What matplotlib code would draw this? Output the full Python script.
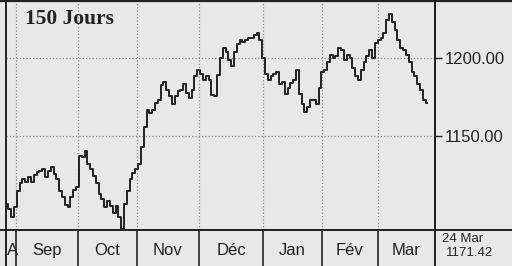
import matplotlib
matplotlib.use("Agg")
import matplotlib.pyplot as plt
from matplotlib.lines import Line2D

# daily closes, 150 sessions, late Aug -> 24 Mar
closes = [
    1107.0, 1103.8, 1098.7, 1105.1, 1115.2, 1120.3, 1122.8, 1120.9, 1124.1, 1120.9,
    1125.3, 1127.2, 1127.8, 1129.1, 1124.1, 1127.8, 1130.4, 1126.0, 1122.8, 1115.2,
    1111.4, 1106.3, 1105.1, 1111.4, 1115.8, 1117.7, 1137.3, 1136.7, 1140.5, 1132.3,
    1129.1, 1124.7, 1120.3, 1113.3, 1110.1, 1105.1, 1108.9, 1105.7, 1101.3, 1105.7,
    1098.7, 1091.1, 1107.0, 1115.2, 1122.8, 1126.6, 1129.1, 1132.3, 1143.0, 1155.7,
    1167.1, 1165.2, 1167.1, 1171.5, 1173.4, 1182.9, 1184.8, 1179.7, 1176.0, 1170.9,
    1176.0, 1179.1, 1179.7, 1183.5, 1177.8, 1174.7, 1179.7, 1188.6, 1192.4, 1189.9,
    1186.1, 1188.6, 1186.1, 1176.6, 1176.0, 1189.2, 1200.0, 1206.3, 1203.8, 1198.7,
    1194.9, 1203.8, 1208.9, 1211.4, 1210.1, 1211.4, 1212.7, 1212.7, 1214.6, 1215.8,
    1211.4, 1200.0, 1189.9, 1186.1, 1188.6, 1189.9, 1191.1, 1183.5, 1184.8, 1177.2,
    1181.0, 1184.2, 1186.1, 1192.4, 1177.2, 1170.3, 1165.8, 1168.4, 1173.4, 1173.4,
    1170.9, 1181.0, 1191.1, 1192.4, 1197.5, 1201.9, 1200.0, 1201.3, 1206.3, 1205.1,
    1198.7, 1201.9, 1200.0, 1193.7, 1188.6, 1186.1, 1192.4, 1197.5, 1201.3, 1205.1,
    1200.0, 1209.5, 1211.4, 1212.7, 1215.8, 1224.1, 1227.8, 1222.8, 1217.7, 1211.4,
    1206.3, 1205.1, 1201.9, 1197.5, 1191.1, 1188.6, 1183.5, 1179.7, 1173.4, 1171.42,
]
# session index where each month boundary falls
month_bounds = [3.2, 25.2, 46.1, 68.1, 90.8, 111.7, 131.6]
month_labels = ["A", "Sep", "Oct", "Nov", "Déc", "Jan", "Fév", "Mar"]
yticks = [1150, 1200]
last_date = "24 Mar"
last_value = "1171.42"

BG = "#e8e8e8"
INK = "#222222"
W, H = 512, 266
XLIM = (-0.35, 151.8)

fig = plt.figure(figsize=(W / 100, H / 100), dpi=100, facecolor=BG)

# price panel
ax = fig.add_axes([6 / W, (H - 230) / H, 429 / W, 229 / H], facecolor=BG)
ax.plot(range(len(closes)), closes, color=INK, lw=1.4, drawstyle="steps-mid")
ax.set_xlim(*XLIM)
ax.set_ylim(1090.5, 1236.1)
for b in month_bounds:
    ax.axvline(b, color="#8a8a8a", ls=":", lw=0.9, zorder=0)
for v in yticks:
    ax.axhline(v, color="#8a8a8a", ls=":", lw=0.9, zorder=0)
ax.set_xticks([])
ax.yaxis.tick_right()
ax.set_yticks(yticks)
ax.set_yticklabels(["%.2f" % v for v in yticks], fontsize=12,
                   family="Liberation Sans", color=INK)
ax.tick_params(axis="y", direction="out", length=5, width=1, color=INK, pad=2)
for s in ax.spines.values():
    s.set_color(INK)
    s.set_linewidth(1.4)
ax.text(19 / 429, 0.9, "150 Jours", transform=ax.transAxes, fontsize=15.5,
        family="Liberation Serif", fontweight="bold", color=INK, va="baseline")

# month band
bx = fig.add_axes([6 / W, 0, 429 / W, (H - 230) / H], facecolor=BG)
bx.set_xlim(*XLIM)
bx.set_ylim(0, 1)
bx.set_xticks([])
bx.set_yticks([])
for s in bx.spines.values():
    s.set_visible(False)
bx.spines["left"].set_visible(True)
bx.spines["left"].set_linewidth(1.4)
bx.spines["left"].set_color(INK)
edges = [XLIM[0]] + month_bounds + [XLIM[1]]
for b in month_bounds:
    bx.axvline(b, color=INK, lw=1.2)
for i, lab in enumerate(month_labels):
    c = (edges[i] + edges[i + 1]) / 2
    if i == 0:
        c = edges[1] - 1.2
    bx.text(c, 0.42, lab, ha="center", va="center", fontsize=12,
            family="Liberation Sans", color=INK, clip_on=True)

# frame lines spanning the whole picture
fig.add_artist(Line2D([435 / W, 435 / W], [0, 1], color=INK, lw=1.4))
fig.add_artist(Line2D([0, 1], [(H - 230) / H] * 2, color=INK, lw=1.4))
fig.add_artist(Line2D([0, 1], [(H - 1) / H] * 2, color=INK, lw=1.6))

fig.text(442 / W, (H - 239) / H, last_date, fontsize=9.5, family="Liberation Sans",
         color=INK, va="center")
fig.text(446 / W, (H - 253) / H, last_value, fontsize=9.5, family="Liberation Sans",
         color=INK, va="center")

fig.savefig("out.png", dpi=100, facecolor=BG)
